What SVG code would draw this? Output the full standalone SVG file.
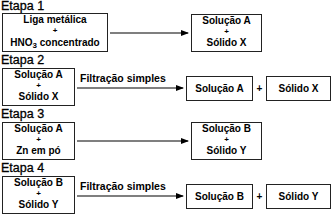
<svg xmlns="http://www.w3.org/2000/svg" width="333" height="218" viewBox="0 0 333 218">
<defs>
<marker id="ah" markerWidth="8" markerHeight="6" refX="7" refY="3" orient="auto" markerUnits="userSpaceOnUse">
<path d="M0,0 L8,3 L0,6 Z" fill="#000"/>
</marker>
<style>
.box{fill:#fff;stroke:#222;stroke-width:1}
.t{font-family:"Liberation Sans",Arial,sans-serif;font-weight:bold;font-size:10px;fill:#000;text-anchor:middle}
.p{font-family:"Liberation Sans",Arial,sans-serif;font-weight:bold;font-size:8px;fill:#000;text-anchor:middle}
.h{font-family:"Liberation Sans",Arial,sans-serif;font-size:12.5px;fill:#000;stroke:#000;stroke-width:0.3}
.l{font-family:"Liberation Sans",Arial,sans-serif;font-weight:bold;font-size:10.5px;fill:#000}
.c{stroke:#000;stroke-width:1.2;fill:none;marker-end:url(#ah)}
</style>
</defs>
<text class="h" x="1" y="10">Etapa 1</text>
<text class="h" x="1" y="64">Etapa 2</text>
<text class="h" x="1" y="118">Etapa 3</text>
<text class="h" x="1" y="172">Etapa 4</text>
<g id="s1a"><rect class="box" x="2.5" y="13.5" width="105" height="38"/>
<text class="t" x="55" y="23">Liga metálica</text><text class="p" x="55" y="33">+</text>
<text class="t" x="55" y="46">HNO<tspan font-size="8" dy="2">3</tspan><tspan dy="-2"> concentrado</tspan></text></g>
<g id="s1b"><rect class="box" x="191.5" y="14.5" width="70" height="37"/>
<text class="t" x="226.5" y="24">Solução A</text><text class="p" x="226.5" y="34">+</text><text class="t" x="226.5" y="46">Sólido X</text></g>
<g id="s2a"><rect class="box" x="2.5" y="68.5" width="72" height="37"/>
<text class="t" x="38.5" y="78">Solução A</text><text class="p" x="38.5" y="88">+</text><text class="t" x="38.5" y="100">Sólido X</text></g>
<g id="s2b"><rect class="box" x="186.5" y="76.5" width="66" height="24"/><text class="t" x="219.5" y="92">Solução A</text></g>
<g id="s2c"><rect class="box" x="266.5" y="76.5" width="64" height="24"/><text class="t" x="298.5" y="92">Sólido X</text></g>
<text class="t" x="259.5" y="92">+</text>
<g id="s3a"><rect class="box" x="2.5" y="122.5" width="72" height="37"/>
<text class="t" x="38.5" y="132">Solução A</text><text class="p" x="38.5" y="142">+</text><text class="t" x="38.5" y="154">Zn em pó</text></g>
<g id="s3b"><rect class="box" x="191.5" y="122.5" width="70" height="37"/>
<text class="t" x="226.5" y="132">Solução B</text><text class="p" x="226.5" y="142">+</text><text class="t" x="226.5" y="154">Sólido Y</text></g>
<g id="s4a"><rect class="box" x="2.5" y="176.5" width="72" height="37"/>
<text class="t" x="38.5" y="186">Solução B</text><text class="p" x="38.5" y="196">+</text><text class="t" x="38.5" y="208">Sólido Y</text></g>
<g id="s4b"><rect class="box" x="186.5" y="184.5" width="66" height="24"/><text class="t" x="219.5" y="200">Solução B</text></g>
<g id="s4c"><rect class="box" x="266.5" y="184.5" width="64" height="24"/><text class="t" x="298.5" y="200">Sólido Y</text></g>
<text class="t" x="259.5" y="200">+</text>
<g id="connectors">
<line class="c" x1="110" y1="33" x2="188" y2="33"/>
<line class="c" x1="77" y1="88" x2="183" y2="88"/>
<text class="l" x="80" y="82">Filtração simples</text>
<line class="c" x1="77" y1="141" x2="188" y2="141"/>
<line class="c" x1="77" y1="196" x2="183" y2="196"/>
<text class="l" x="80" y="190">Filtração simples</text>
</g>
</svg>
